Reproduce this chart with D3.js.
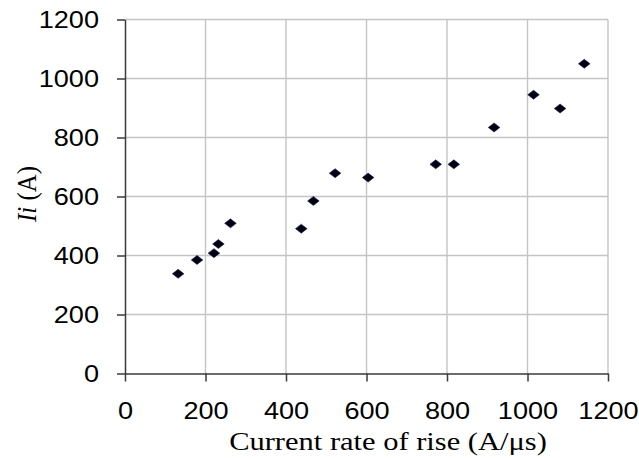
<!DOCTYPE html>
<meta charset="utf-8">
<style>
  body { margin: 0; background: #fff; }
  .tick-label { font-family: "Liberation Sans", Arial, sans-serif; font-size: 24px; fill: #000; }
  .axis-title { font-family: "Liberation Serif", "Times New Roman", serif; font-size: 25px; fill: #000; }
</style>
<body>
<div id="canvas"></div>
<script src="https://d3js.org/d3.v7.min.js"></script>
<script>

// rate of rise (A/us) and current Ii (A)
var rateOfRise = [132, 179, 221, 232, 262, 438, 468, 522, 604, 772, 817, 917, 1015, 1081, 1141];
var currentIi  = [338, 385, 408, 439, 509, 491, 585, 679, 664, 709, 709, 834, 945, 898, 1050];

var xTicks = [0, 200, 400, 600, 800, 1000, 1200];
var yTicks = [0, 200, 400, 600, 800, 1000, 1200];

var width = 639, height = 458;
var margin = {top: 19.5, right: 31, bottom: 84.5, left: 125};
var stretch = 1.13; // the source text looks a bit wider than normal

var points = rateOfRise.map(function(r, i){ return {x: r, y: currentIi[i]}; });

var x = d3.scaleLinear().domain([0, 1200]).range([margin.left, width - margin.right]);
var y = d3.scaleLinear().domain([0, 1200]).range([height - margin.bottom, margin.top]);

var svg = d3.select("#canvas").append("svg")
    .attr("width", width)
    .attr("height", height);

// gridlines
svg.append("g").selectAll("line.vgrid")
    .data(xTicks.filter(function(d){ return d > 0; }))
    .enter().append("line")
    .attr("x1", function(d){ return x(d); })
    .attr("x2", function(d){ return x(d); })
    .attr("y1", y(0))
    .attr("y2", y(1200))
    .attr("stroke", "#c4c4c4")
    .attr("stroke-width", 1.4);

svg.append("g").selectAll("line.hgrid")
    .data(yTicks.filter(function(d){ return d > 0; }))
    .enter().append("line")
    .attr("x1", x(0))
    .attr("x2", x(1200))
    .attr("y1", function(d){ return y(d); })
    .attr("y2", function(d){ return y(d); })
    .attr("stroke", "#c4c4c4")
    .attr("stroke-width", 1.4);

// axes
var fmt = d3.format("d");

var xAxis = svg.append("g")
    .attr("transform", "translate(0," + y(0) + ")")
    .call(d3.axisBottom(x).tickValues(xTicks).tickFormat(fmt).tickSize(8).tickSizeOuter(0).tickPadding(20));

var yAxis = svg.append("g")
    .attr("transform", "translate(" + x(0) + ",0)")
    .call(d3.axisLeft(y).tickValues(yTicks).tickFormat(fmt).tickSize(8).tickSizeOuter(0).tickPadding(18));

[xAxis, yAxis].forEach(function(ax){
    ax.select(".domain").attr("stroke", "#3a3a3a").attr("stroke-width", 1.5);
    ax.selectAll(".tick line").attr("stroke", "#3a3a3a").attr("stroke-width", 1.5);
    ax.selectAll(".tick text").attr("class", "tick-label").attr("font-family", null).attr("font-size", null);
});

xAxis.selectAll(".tick text")
    .attr("transform", "scale(" + stretch + ",1)");

yAxis.selectAll(".tick text")
    .attr("x", -26 / stretch)
    .attr("transform", "scale(" + stretch + ",1)");

// axis titles
svg.append("text")
    .attr("class", "axis-title")
    .attr("text-anchor", "middle")
    .attr("transform", "translate(388,450) scale(1.22,1)")
    .text("Current rate of rise (A/\u03bcs)");

var yTitle = svg.append("text")
    .attr("class", "axis-title")
    .attr("text-anchor", "middle")
    .attr("transform", "translate(36,194) rotate(-90) scale(1," + stretch + ")");
yTitle.append("tspan").attr("font-style", "italic").text("Ii");
yTitle.append("tspan").text(" (A)");

// markers
var diamond = "M0,-4.5L5.8,0L0,4.5L-5.8,0Z";

svg.append("g").selectAll("path.pt")
    .data(points)
    .enter().append("path")
    .attr("d", diamond)
    .attr("transform", function(d){ return "translate(" + x(d.x) + "," + y(d.y) + ")"; })
    .attr("fill", "#000010")
    .attr("stroke", "#1a1a50")
    .attr("stroke-width", 0.6);

</script>
</body>
